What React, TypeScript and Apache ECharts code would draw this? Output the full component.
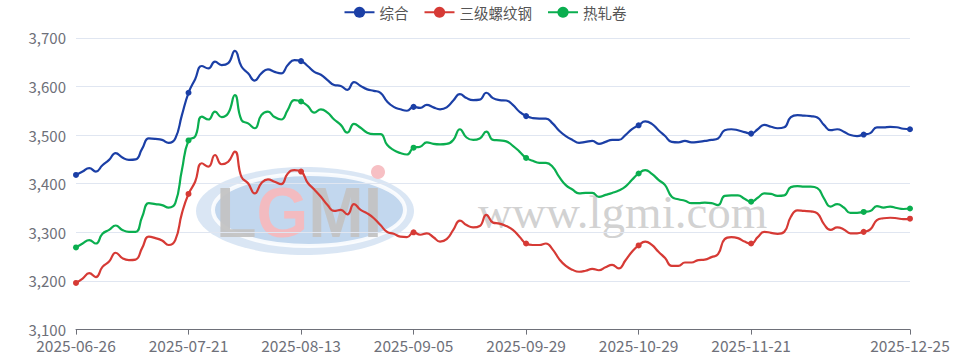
import React, { useEffect, useRef } from "react";
import * as echarts from "echarts";

const dates: string[] = [
  "2025-06-26","2025-06-27","2025-06-30",
  "2025-07-01","2025-07-02","2025-07-03","2025-07-04","2025-07-07","2025-07-08","2025-07-09","2025-07-10","2025-07-11",
  "2025-07-14","2025-07-15","2025-07-16","2025-07-17","2025-07-18","2025-07-21","2025-07-22","2025-07-23","2025-07-24","2025-07-25",
  "2025-07-28","2025-07-29","2025-07-30","2025-07-31",
  "2025-08-01","2025-08-04","2025-08-05","2025-08-06","2025-08-07","2025-08-08","2025-08-11","2025-08-12","2025-08-13","2025-08-14","2025-08-15",
  "2025-08-18","2025-08-19","2025-08-20","2025-08-21","2025-08-22","2025-08-25","2025-08-26","2025-08-27","2025-08-28","2025-08-29",
  "2025-09-01","2025-09-02","2025-09-03","2025-09-04","2025-09-05","2025-09-08","2025-09-09","2025-09-10","2025-09-11","2025-09-12",
  "2025-09-15","2025-09-16","2025-09-17","2025-09-18","2025-09-19","2025-09-22","2025-09-23","2025-09-24","2025-09-25","2025-09-26",
  "2025-09-28","2025-09-29","2025-09-30",
  "2025-10-09","2025-10-10","2025-10-11","2025-10-13","2025-10-14","2025-10-15","2025-10-16","2025-10-17",
  "2025-10-20","2025-10-21","2025-10-22","2025-10-23","2025-10-24","2025-10-27","2025-10-28","2025-10-29","2025-10-30","2025-10-31",
  "2025-11-03","2025-11-04","2025-11-05","2025-11-06","2025-11-07","2025-11-10","2025-11-11","2025-11-12","2025-11-13","2025-11-14",
  "2025-11-17","2025-11-18","2025-11-19","2025-11-20","2025-11-21","2025-11-24","2025-11-25","2025-11-26","2025-11-27","2025-11-28",
  "2025-12-01","2025-12-02","2025-12-03","2025-12-04","2025-12-05","2025-12-08","2025-12-09","2025-12-10","2025-12-11","2025-12-12",
  "2025-12-15","2025-12-16","2025-12-17","2025-12-18","2025-12-19","2025-12-22","2025-12-23","2025-12-24","2025-12-25",
];

const composite: number[] = [
  3418,3425,3432,3425,3438,3449,3463,3454,3449,3450,
  3472,3493,3492,3490,3484,3493,3541,3587,3615,3642,
  3637,3651,3644,3648,3673,3641,3627,3612,3627,3635,
  3630,3627,3644,3654,3652,3642,3630,3624,3613,3603,
  3601,3593,3609,3601,3594,3591,3587,3569,3558,3553,
  3550,3558,3556,3562,3557,3553,3557,3571,3584,3576,
  3572,3573,3587,3576,3572,3571,3562,3548,3539,3535,
  3534,3534,3524,3509,3498,3490,3484,3486,3488,3482,
  3486,3490,3490,3500,3512,3520,3528,3523,3510,3498,
  3486,3485,3488,3485,3486,3488,3490,3493,3510,3512,
  3510,3506,3503,3512,3521,3517,3514,3516,3537,3541,
  3540,3539,3536,3521,3510,3512,3507,3500,3498,3501,
  3504,3516,3516,3517,3516,3513,3512,
];

const rebar: number[] = [
  3196,3205,3216,3208,3229,3240,3258,3247,3243,3244,
  3268,3291,3288,3283,3274,3284,3339,3379,3404,3442,
  3435,3459,3440,3445,3466,3414,3401,3380,3401,3409,
  3404,3399,3421,3428,3425,3402,3388,3373,3356,3344,
  3346,3337,3358,3346,3339,3329,3315,3301,3297,3291,
  3290,3300,3295,3298,3290,3281,3286,3305,3324,3315,
  3310,3313,3336,3320,3318,3313,3305,3291,3277,3274,
  3274,3277,3265,3245,3231,3223,3219,3221,3225,3222,
  3228,3233,3226,3242,3260,3273,3281,3274,3260,3247,
  3231,3231,3238,3238,3243,3244,3249,3255,3286,3290,
  3288,3281,3277,3290,3301,3299,3297,3301,3332,3345,
  3344,3343,3339,3317,3305,3310,3306,3298,3298,3301,
  3306,3325,3329,3330,3329,3327,3328,
];

const hotRolled: number[] = [
  3269,3277,3284,3277,3297,3305,3314,3305,3301,3301,
  3332,3360,3358,3356,3351,3360,3428,3489,3497,3538,
  3532,3548,3537,3545,3582,3531,3524,3514,3541,3548,
  3537,3532,3552,3572,3569,3560,3546,3553,3546,3532,
  3521,3505,3523,3515,3505,3502,3502,3480,3469,3463,
  3460,3474,3476,3485,3482,3481,3482,3490,3512,3495,
  3490,3493,3507,3490,3489,3487,3478,3466,3453,3447,
  3443,3443,3435,3414,3397,3388,3380,3381,3381,3373,
  3377,3381,3386,3394,3408,3421,3428,3420,3408,3397,
  3373,3368,3365,3360,3360,3361,3360,3356,3375,3376,
  3376,3369,3363,3371,3380,3379,3375,3376,3393,3395,
  3394,3394,3391,3370,3353,3358,3351,3340,3340,3342,
  3344,3354,3351,3353,3350,3348,3349,
];

const seriesNames: string[] = ["综合", "三级螺纹钢", "热轧卷"];
const seriesColors: string[] = ["#1b3fa6", "#d63a35", "#0aae4f"];
const labelIndices: number[] = [0, 17, 34, 51, 68, 85, 102, 126];
const markerIndices: number[] = [0, 17, 34, 51, 68, 85, 102, 119, 126];

const FONT = "'Noto Sans CJK SC', 'Noto Sans', sans-serif";

export default function App() {
  const ref = useRef<HTMLDivElement>(null);
  useEffect(() => {
    document.body.style.margin = "0";
    if (!ref.current) return;
    const chart = echarts.init(ref.current, undefined, { renderer: "svg" });
    const values = [composite, rebar, hotRolled];
    const logoPart = { fontSize: 70, fontWeight: "bold", fontFamily: "'Liberation Sans', sans-serif" };
    const option: any = {
      animation: false,
      textStyle: { fontFamily: FONT },
      legend: {
        top: 0,
        left: "center",
        itemWidth: 30,
        itemHeight: 14,
        itemGap: 15,
        textStyle: { fontSize: 14.5, color: "#555", fontFamily: FONT },
        data: seriesNames,
      },
      grid: { left: 76, right: 60, top: 37.8, bottom: 31.4, containLabel: false },
      xAxis: {
        type: "category",
        boundaryGap: false,
        data: dates,
        axisLine: { lineStyle: { color: "#6E7079" } },
        axisTick: { show: true, interval: (i: number) => labelIndices.includes(i), length: 5 },
        axisLabel: {
          interval: (i: number) => labelIndices.includes(i),
          fontSize: 15.5,
          color: "#6E7079",
          margin: 8,
          fontFamily: FONT,
        },
      },
      yAxis: {
        type: "value",
        min: 3100,
        max: 3700,
        interval: 100,
        axisLabel: {
          fontSize: 15,
          color: "#6E7079",
          margin: 10,
          fontFamily: FONT,
          formatter: (v: number) => v.toLocaleString("en-US"),
        },
        splitLine: { lineStyle: { color: "#E0E6F1" } },
      },
      graphic: [
        {
          type: "group",
          z: 0,
          silent: true,
          children: [
            {
              type: "ellipse",
              shape: { cx: 305, cy: 211, rx: 109, ry: 44 },
              style: { fill: "#d3e2f2", opacity: 0.85 },
            },
            {
              type: "ellipse",
              shape: { cx: 309, cy: 210, rx: 96, ry: 36 },
              style: { fill: "#bdd3ec", stroke: "#ffffff", lineWidth: 4, opacity: 0.85 },
            },
            {
              type: "text",
              x: 216,
              y: 212,
              scaleX: 0.95,
              style: {
                text: "{a|L}{b|G}{a|MI}",
                verticalAlign: "middle",
                opacity: 0.95,
                rich: {
                  a: { ...logoPart, fill: "#c3c3c3" },
                  b: { ...logoPart, fill: "#f5b9bd" },
                },
              },
            },
            {
              type: "circle",
              shape: { cx: 378, cy: 172, r: 7 },
              style: { fill: "#f7c0c4" },
            },
            {
              type: "text",
              x: 478,
              y: 212,
              style: {
                text: "www.lgmi.com",
                fill: "#cccccc",
                font: "47px 'Liberation Serif', serif",
                verticalAlign: "middle",
                opacity: 0.9,
              },
            },
          ],
        },
      ],
      series: seriesNames.map((name, k) => ({
        name,
        type: "line",
        data: values[k],
        smooth: true,
        showAllSymbol: true,
        symbol: "circle",
        symbolSize: (_v: any, p: any) => (markerIndices.includes(p.dataIndex) ? 6 : 0),
        color: seriesColors[k],
        lineStyle: { width: 2.2, color: seriesColors[k] },
        itemStyle: { color: seriesColors[k] },
        z: 3,
      })),
    };
    chart.setOption(option);
    return () => chart.dispose();
  }, []);
  return <div ref={ref} style={{ width: 970, height: 361 }} />;
}
